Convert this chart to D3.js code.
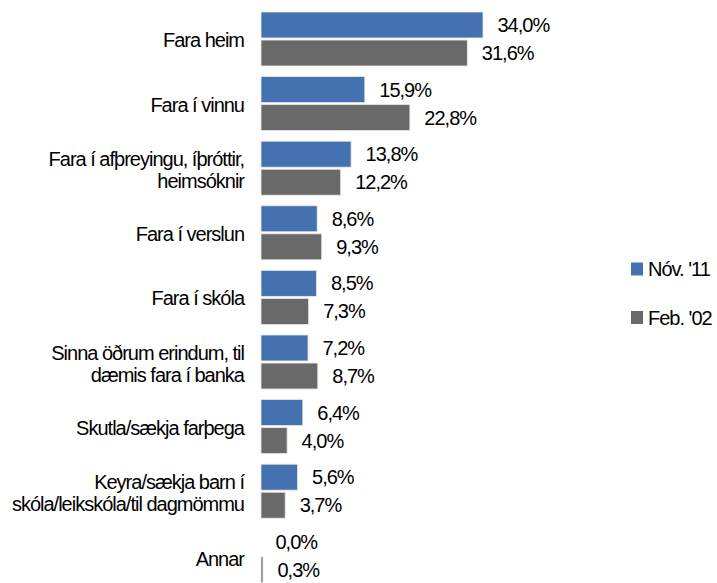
<!DOCTYPE html>
<html>
<head>
<meta charset="utf-8">
<script src="https://cdn.jsdelivr.net/npm/d3@7"></script>
<style>
  body { margin: 0; background: #fff; }
  text { font-family: "Liberation Sans", Arial, sans-serif; font-size: 20px; letter-spacing: -1px; fill: #000; }
</style>
</head>
<body>
<div class="chart"></div>
<script>
var width = 717;
var height = 583;

var categories = [
  ["Fara heim"],
  ["Fara í vinnu"],
  ["Fara í afþreyingu, íþróttir,", "heimsóknir"],
  ["Fara í verslun"],
  ["Fara í skóla"],
  ["Sinna öðrum erindum, til", "dæmis fara í banka"],
  ["Skutla/sækja farþega"],
  ["Keyra/sækja barn í", "skóla/leikskóla/til dagmömmu"],
  ["Annar"]
];
var series = ["Nóv. '11", "Feb. '02"];
var nov11 = [34.0, 15.9, 13.8, 8.6, 8.5, 7.2, 6.4, 5.6, 0.0];
var feb02 = [31.6, 22.8, 12.2, 9.3, 7.3, 8.7, 4.0, 3.7, 0.3];
var colors = ["#4472b0", "#696969"];

var svg = d3.select("div.chart").append("svg")
    .attr("width", width)
    .attr("height", height);

var catIdx = d3.range(categories.length);

// bands are a bit taller than 583/9, the last one runs off the bottom
var y0 = d3.scaleBand().domain(catIdx).range([6.7, 6.7 + 9 * 64.6]);
var y1 = d3.scaleBand().domain([0, 1]).range([5.3, 59.3]).paddingInner(0.074);
var x = d3.scaleLinear().domain([0, 34]).range([261, 483]);

var data = [];
catIdx.forEach(function(i) {
  data.push({ cat: i, s: 0, v: nov11[i] });
  data.push({ cat: i, s: 1, v: feb02[i] });
});

function fmt(v) { return v.toFixed(1).replace(".", ",") + "%"; }

svg.selectAll("rect.bar").data(data).enter()
    .append("rect")
    .attr("class", "bar")
    .attr("x", x(0))
    .attr("y", function(d) { return y0(d.cat) + y1(d.s); })
    .attr("width", function(d) { return x(d.v) - x(0); })
    .attr("height", y1.bandwidth())
    .style("fill", function(d) { return colors[d.s]; })
    .style("stroke", "#e8e8e8")
    .style("stroke-width", 0.8);

svg.selectAll("text.val").data(data).enter()
    .append("text")
    .attr("class", "val")
    .attr("x", function(d) { return x(d.v) + 14.5; })
    .attr("y", function(d) { return y0(d.cat) + y1(d.s) + y1.bandwidth() / 2; })
    .attr("dy", "0.35em")
    .text(function(d) { return fmt(d.v); });

var lineH = 22;
var labels = svg.selectAll("text.cat").data(catIdx).enter()
    .append("text")
    .attr("class", "cat")
    .attr("text-anchor", "end");

labels.each(function(i) {
  var lines = categories[i];
  var cy = y0(i) + y0.bandwidth() / 2 + (lines.length > 1 ? 2 : 1) + (i == 8 ? 2 : 0);
  var t = d3.select(this);
  lines.forEach(function(line, k) {
    t.append("tspan")
      .attr("x", 244)
      .attr("y", cy + (k - (lines.length - 1) / 2) * lineH)
      .attr("dy", "0.35em")
      .text(line);
  });
});

var legend = svg.selectAll("g.legend").data(series).enter()
    .append("g")
    .attr("class", "legend")
    .attr("transform", function(d, i) { return "translate(631," + (269 + i * 48.5) + ")"; });

legend.append("rect")
    .attr("x", 0)
    .attr("y", -6.5)
    .attr("width", 12)
    .attr("height", 13)
    .style("fill", function(d, i) { return colors[i]; });

legend.append("text")
    .attr("x", 17)
    .attr("y", 0)
    .attr("dy", "0.35em")
    .text(function(d) { return d; });
</script>
</body>
</html>
